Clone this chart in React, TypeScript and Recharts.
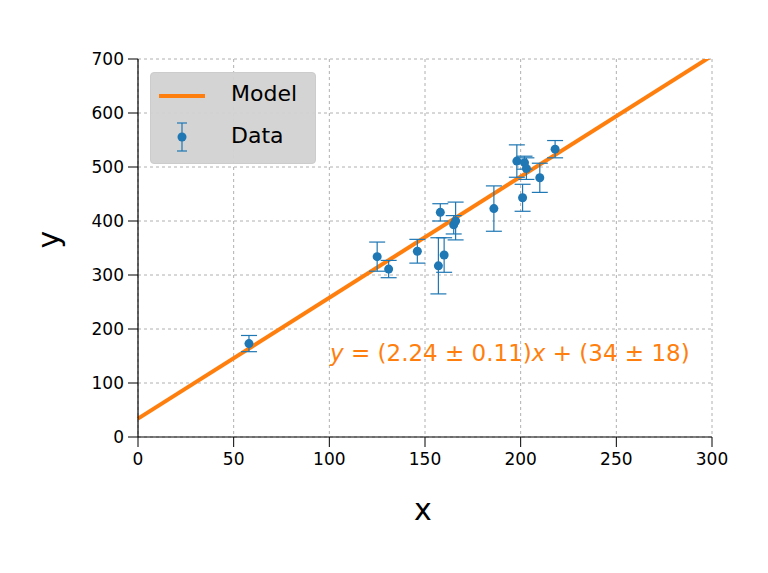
import { ComposedChart, Scatter, Line, XAxis, YAxis, CartesianGrid, ErrorBar } from 'recharts';

const xs = [58, 125, 131, 146, 157, 158, 160, 165, 166, 186, 198, 201, 202, 203, 210, 218];
const ys = [173, 334, 311, 344, 317, 416, 337, 393, 400, 423, 511, 443, 508, 497, 480, 533];
const errs = [15, 27, 16, 22, 52, 16, 32, 17, 35, 42, 30, 25, 12, 20, 27, 16];
const modelX = [0, 300];
const slope = 2.24;
const intercept = 34;
const majorX = [0, 50, 100, 150, 200, 250, 300];
const majorY = [0, 100, 200, 300, 400, 500, 600, 700];
const minorX = Array.from({ length: 31 }, (_, i) => i * 10);
const minorY = Array.from({ length: 36 }, (_, i) => i * 20);

const points = xs.map((x, i) => ({ x, y: ys[i], err: errs[i] }));
const model = modelX.map((x) => ({ x, y: intercept + slope * x }));

const BLUE = '#1f77b4';
const ORANGE = '#ff7f0e';
const FONT = 'DejaVu Sans';

// tick renderer: draws an outward tick mark and optionally the label
function makeTick(side: 'bottom' | 'top' | 'left' | 'right', len: number, label: boolean) {
  return (p: any) => {
    const { x, y, payload } = p;
    let line;
    if (side === 'bottom') line = <line x1={x} y1={y} x2={x} y2={y + len} stroke="#000" />;
    else if (side === 'top') line = <line x1={x} y1={y} x2={x} y2={y - len} stroke="#000" />;
    else if (side === 'left') line = <line x1={x} y1={y} x2={x - len} y2={y} stroke="#000" />;
    else line = <line x1={x} y1={y} x2={x + len} y2={y} stroke="#000" />;
    return (
      <g>
        {line}
        {label && side === 'bottom' && (
          <text x={x} y={y + len + 18} textAnchor="middle" fontSize={17} fontFamily={FONT} fill="#000">{payload.value}</text>
        )}
        {label && side === 'left' && (
          <text x={x - len - 4} y={y + 6} textAnchor="end" fontSize={17} fontFamily={FONT} fill="#000">{payload.value}</text>
        )}
      </g>
    );
  };
}

export default function App() {
  const axisLine = { stroke: '#000', strokeWidth: 1.2 };
  const common = { tickSize: 0, tickMargin: 0, tickLine: false, interval: 0 as const };
  return (
    <div style={{ position: 'relative', margin: -8, width: 768, height: 573, background: '#fff' }}>
      <ComposedChart width={768} height={573} margin={{ left: 78, top: 59, right: 56, bottom: 96 }}>
        <CartesianGrid stroke="#b0b0b0" strokeDasharray="3 3" xAxisId="x" yAxisId="y" />
        <XAxis xAxisId="x" type="number" dataKey="x" domain={[0, 300]} ticks={majorX} height={40}
          {...common} tick={makeTick('bottom', 10, true)} axisLine={axisLine} />
        <XAxis xAxisId="xm" type="number" dataKey="x" domain={[0, 300]} ticks={minorX} height={0}
          {...common} tick={makeTick('bottom', 5, false)} axisLine={false} />
        <XAxis xAxisId="xt" orientation="top" type="number" dataKey="x" domain={[0, 300]} ticks={majorX} height={0}
          {...common} tick={makeTick('top', 10, false)} axisLine={axisLine} />
        <XAxis xAxisId="xtm" orientation="top" type="number" dataKey="x" domain={[0, 300]} ticks={minorX} height={0}
          {...common} tick={makeTick('top', 5, false)} axisLine={false} />
        <YAxis yAxisId="y" type="number" domain={[0, 700]} ticks={majorY} width={60} allowDataOverflow
          {...common} tick={makeTick('left', 10, true)} axisLine={axisLine} />
        <YAxis yAxisId="ym" type="number" domain={[0, 700]} ticks={minorY} width={0}
          {...common} tick={makeTick('left', 5, false)} axisLine={false} />
        <YAxis yAxisId="yr" orientation="right" type="number" domain={[0, 700]} ticks={majorY} width={0}
          {...common} tick={makeTick('right', 10, false)} axisLine={axisLine} />
        <YAxis yAxisId="yrm" orientation="right" type="number" domain={[0, 700]} ticks={minorY} width={0}
          {...common} tick={makeTick('right', 5, false)} axisLine={false} />
        <Line xAxisId="x" yAxisId="y" data={model} dataKey="y" type="linear" stroke={ORANGE} strokeWidth={4}
          dot={false} isAnimationActive={false} />
        <Scatter xAxisId="x" yAxisId="y" data={points} dataKey="y" fill={BLUE} isAnimationActive={false}
          shape={(p: any) => <circle cx={p.cx} cy={p.cy} r={4.5} fill={BLUE} />}>
          <ErrorBar dataKey="err" direction="y" width={8} stroke={BLUE} strokeWidth={1.2} />
        </Scatter>
      </ComposedChart>
      <div style={{ position: 'absolute', left: 150, top: 72, width: 164, height: 90, background: 'rgba(210,210,210,0.95)',
        border: '1px solid #ccc', borderRadius: 4, fontFamily: FONT, fontSize: 22 }}>
        <div style={{ position: 'absolute', left: 8, top: 21, width: 46, height: 4, background: ORANGE }} />
        <div style={{ position: 'absolute', left: 80, top: 8 }}>Model</div>
        <svg style={{ position: 'absolute', left: 24, top: 48 }} width={14} height={34}>
          <line x1={7} y1={2} x2={7} y2={30} stroke={BLUE} strokeWidth={1.2} />
          <line x1={2} y1={2} x2={12} y2={2} stroke={BLUE} strokeWidth={1.2} />
          <line x1={2} y1={30} x2={12} y2={30} stroke={BLUE} strokeWidth={1.2} />
          <circle cx={7} cy={16} r={4.5} fill={BLUE} />
        </svg>
        <div style={{ position: 'absolute', left: 80, top: 50 }}>Data</div>
      </div>
      <div style={{ position: 'absolute', left: 330, top: 340, color: ORANGE, fontFamily: FONT, fontSize: 23, whiteSpace: 'nowrap' }}>
        <i>y</i> = (2.24 ± 0.11)<i>x</i> + (34 ± 18)
      </div>
      <div style={{ position: 'absolute', left: 414, top: 492, fontFamily: FONT, fontSize: 30 }}>x</div>
      <div style={{ position: 'absolute', left: 40, top: 222, fontFamily: FONT, fontSize: 30, transform: 'rotate(-90deg)' }}>y</div>
    </div>
  );
}
